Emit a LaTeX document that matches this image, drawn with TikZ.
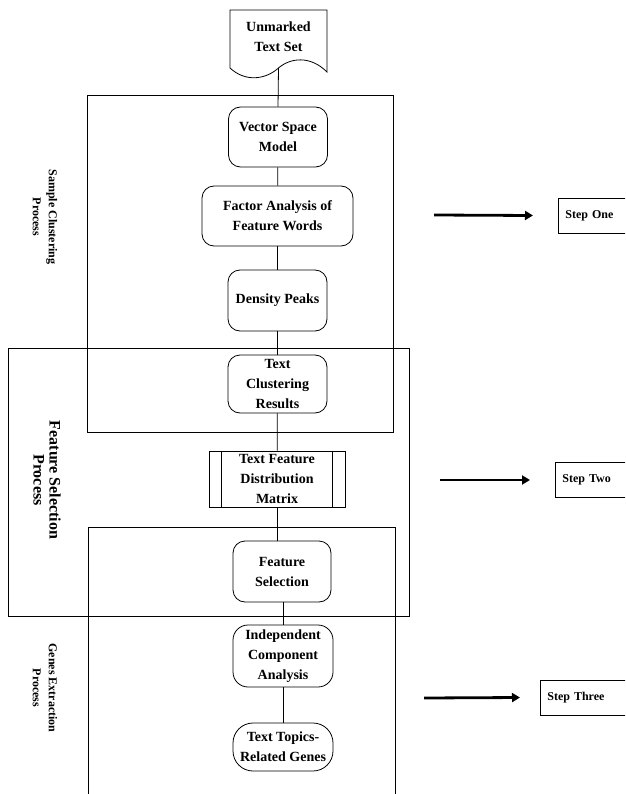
\documentclass[tikz,border=0pt]{standalone}
\usepackage{fontspec}
\setmainfont{Liberation Serif}
\usetikzlibrary{arrows.meta}
\begin{document}
\begin{tikzpicture}[x=1pt,y=-1pt, line width=0.8pt,
  proc/.style={draw, rounded corners=12pt, font=\bfseries\fontsize{14}{20}\selectfont, align=center, inner sep=0pt, minimum width=99pt, minimum height=60pt},
  grp/.style={draw, inner sep=0pt},
  lab/.style={font=\bfseries\fontsize{12}{16}\selectfont, align=center, rotate=-90},
  stepbox/.style={draw, font=\bfseries\fontsize{12}{14}\selectfont, anchor=west, inner sep=7pt, minimum height=35pt, minimum width=90pt, text width=76pt, align=left},
  steparrow/.style={line width=2.8pt, -{Triangle[length=8pt,width=9pt]}}
]
\clip (0,0) rectangle (625,794);
\fill[white] (0,0) rectangle (625,794);
% group boxes
\node[grp, minimum width=306pt, minimum height=337pt] (g1) at (240,263.5) {};
\node[grp, minimum width=401pt, minimum height=268pt] (g2) at (208.5,482) {};
\draw (88,800) -- (88,527) -- (395,527) -- (395,800);
% labels
\node[lab] (l1) at (45,217) {Sample Clustering\\Process};
\node[lab, font=\bfseries\fontsize{16}{16}\selectfont] (l2) at (47,480) {Feature Selection\\Process};
\node[lab] (l3) at (45,688) {Genes Extraction\\Process};
% document
\draw[fill=white] (230,10) -- (327,10) -- (327,72) .. controls (310,55) and (290,58) .. (278.5,68) .. controls (265,80) and (245,82) .. (230,68) -- cycle;
\node[font=\bfseries\fontsize{14}{20}\selectfont, align=center] (doc) at (278.5,37) {Unmarked\\Text Set};
\coordinate (docb) at (278.5,68);
% process nodes
\node[proc] (vsm) at (278,137) {Vector Space\\Model};
\node[proc, minimum width=151pt] (fa) at (277.5,216) {Factor Analysis of\\Feature Words};
\node[proc, minimum height=61pt] (dp) at (277.5,300.5) {Density Peaks};
\node[proc, minimum height=58pt] (tcr) at (277.5,384) {Text\\Clustering\\Results};
\node[draw, font=\bfseries\fontsize{14}{20}\selectfont, align=center, inner sep=0pt, minimum width=136pt, minimum height=56pt] (tfdm) at (277,479) {Text Feature\\Distribution\\Matrix};
\draw ([xshift=13pt]tfdm.north west) -- ([xshift=13pt]tfdm.south west);
\draw ([xshift=-13pt]tfdm.north east) -- ([xshift=-13pt]tfdm.south east);
\node[proc, minimum width=98pt, minimum height=61pt] (fs) at (282,571.5) {Feature\\Selection};
\node[proc, rounded corners=15pt, minimum width=100pt, minimum height=62pt] (ica) at (283,656) {Independent\\Component\\Analysis};
\node[proc, rounded corners=20pt, minimum width=100pt, minimum height=48pt] (tt) at (283,747) {Text Topics-\\Related Genes};
% connectors
\draw (docb) -- (vsm.north);
\draw (vsm) -- (fa);
\draw (fa) -- (dp);
\draw (dp) -- (tcr);
\draw (tcr) -- (tfdm);
\draw (tfdm.south) -- (tfdm.south |- fs.north);
\draw (fs.south -| ica.north) -- (ica.north);
\draw (ica) -- (tt);
% steps
\node[stepbox] (s1) at (558,215.5) {Step One};
\node[stepbox] (s2) at (555,480) {Step Two};
\node[stepbox] (s3) at (540,697.5) {Step Three};
\coordinate (a1s) at (434,215);
\coordinate (a2s) at (440,480);
\coordinate (a3s) at (424,698);
\draw[steparrow] (a1s) -- ([xshift=-25pt]s1.west);
\draw[steparrow] (a2s) -- ([xshift=-25pt]s2.west);
\draw[steparrow] (a3s) -- ([xshift=-20pt]s3.west);
\end{tikzpicture}
\end{document}
